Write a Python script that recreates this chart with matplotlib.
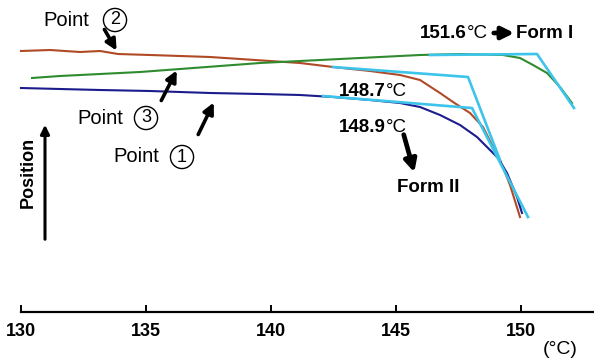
import matplotlib
matplotlib.use("Agg")
import matplotlib.pyplot as plt

plt.rcParams['font.family'] = ['Liberation Sans', 'DejaVu Sans']

# ---- data (temperature in degC, position in arbitrary units) ----
orange_T = [130.00, 131.16, 132.36, 133.16, 133.88, 135.16, 136.36, 137.56, 138.76, 139.96,
            141.16, 142.48, 143.96, 145.16, 145.96, 146.76, 147.28, 147.96, 148.48, 148.88,
            149.16, 149.56, 149.96]
orange_P = [261, 262, 260, 261, 258, 257, 256, 255, 253, 251,
            249, 245, 241, 237, 232, 219, 210, 199, 185, 165,
            152, 127, 95]

blue_T = [130.00, 131.56, 133.16, 135.16, 137.56, 139.56, 141.16, 142.48, 143.96, 145.16,
          145.96, 146.76, 147.56, 148.24, 148.68, 149.08, 149.44, 149.84, 150.04]
blue_P = [224, 223, 222, 221, 219, 218, 217, 215, 212, 209,
          205, 197, 187, 175, 164, 154, 139, 115, 99]

green_T = [130.44, 131.56, 133.16, 134.76, 136.36, 137.96, 139.56, 141.16, 142.76, 144.36,
           145.96, 147.56, 149.28, 149.96, 150.48, 151.04, 151.56, 152.04]
green_P = [234, 236, 238, 240, 243, 246, 249, 251, 253, 255,
           257, 258, 257, 254, 247, 239, 225, 209]

tan_green_T = [146.36, 150.64, 152.12]
tan_green_P = [257, 258, 204]
tan_orange_T = [142.48, 147.88, 149.16]
tan_orange_P = [245, 235, 152]
tan_blue_T = [142.08, 148.04, 150.28]
tan_blue_P = [216, 204, 95]

xticks = [130, 135, 140, 145, 150]

C_OR = '#b04a26'
C_BL = '#1c1c8c'
C_GR = '#2e8b2e'
C_CY = '#3cc4ea'

fig = plt.figure(figsize=(5.94, 3.63), dpi=100)
ax = fig.add_axes([0, 0, 1, 1])
ax.set_xlim(129.16, 152.92)
ax.set_ylim(-51, 312)

ax.plot(orange_T, orange_P, color=C_OR, lw=1.5)
ax.plot(blue_T, blue_P, color=C_BL, lw=1.5)
ax.plot(green_T, green_P, color=C_GR, lw=1.5)
ax.plot(tan_green_T, tan_green_P, color=C_CY, lw=1.9)
ax.plot(tan_orange_T, tan_orange_P, color=C_CY, lw=1.9)
ax.plot(tan_blue_T, tan_blue_P, color=C_CY, lw=1.9)

for s in ['top', 'right', 'left']:
    ax.spines[s].set_visible(False)
ax.spines['bottom'].set_position(('data', 0))
ax.spines['bottom'].set_bounds(130, 152.92)
ax.spines['bottom'].set_linewidth(1.6)
ax.set_yticks([])
ax.set_xticks(xticks)
ax.set_xticklabels([str(t) for t in xticks], fontweight='bold', fontsize=13)
ax.tick_params(axis='x', direction='in', length=5, width=1.4, pad=8)

arrow_kw = dict(arrowstyle='-|>', color='black', lw=2.6, mutation_scale=16)

# Point labels
def point_label(tx, ty, cx, digit):
    ax.text(tx, ty, 'Point', fontsize=14.5, ha='left', va='center')
    ax.text(cx, ty, digit, fontsize=13, ha='center', va='center',
            bbox=dict(boxstyle='circle,pad=0.17', fc='none', ec='black', lw=1.0))

point_label(130.88, 292, 133.76, '2')
point_label(132.24, 194, 135.0, '3')
point_label(133.68, 155, 136.44, '1')

ax.annotate('', xy=(133.88, 259), xytext=(133.28, 285), arrowprops=arrow_kw)
ax.annotate('', xy=(136.28, 244), xytext=(135.56, 209), arrowprops=arrow_kw)
ax.annotate('', xy=(137.76, 212), xytext=(137.04, 175), arrowprops=arrow_kw)

# Position
ax.text(130.28, 140, 'Position', rotation=90, fontsize=13, fontweight='bold',
        ha='center', va='center')
ax.annotate('', xy=(130.96, 190), xytext=(130.96, 70),
            arrowprops=dict(arrowstyle='-|>', color='black', lw=2.2, mutation_scale=13))

# temperature labels
def temp_label(x, y, num):
    t = ax.text(x, y, num, fontsize=13.5, fontweight='bold', ha='left', va='center')
    ax.annotate('°C', xy=(1, 0), xycoords=t, ha='left', va='bottom', fontsize=13.5)
    return t

temp_label(145.96, 279, '151.6')
ax.annotate('', xy=(149.84, 279), xytext=(148.8, 279),
            arrowprops=dict(arrowstyle='-|>', color='black', lw=3.4, mutation_scale=18))
ax.text(149.8, 279, 'Form I', fontsize=13.5, fontweight='bold', ha='left', va='center')

temp_label(142.72, 220, '148.7')
temp_label(142.72, 184, '148.9')
ax.annotate('', xy=(145.76, 137), xytext=(145.28, 180),
            arrowprops=dict(arrowstyle='-|>', color='black', lw=3.4, mutation_scale=18))
ax.text(145.04, 125, 'Form II', fontsize=13.5, fontweight='bold', ha='left', va='center')

ax.text(150.88, -38, '(°C)', fontsize=14, ha='left', va='center')

fig.savefig('out.png', dpi=100)
